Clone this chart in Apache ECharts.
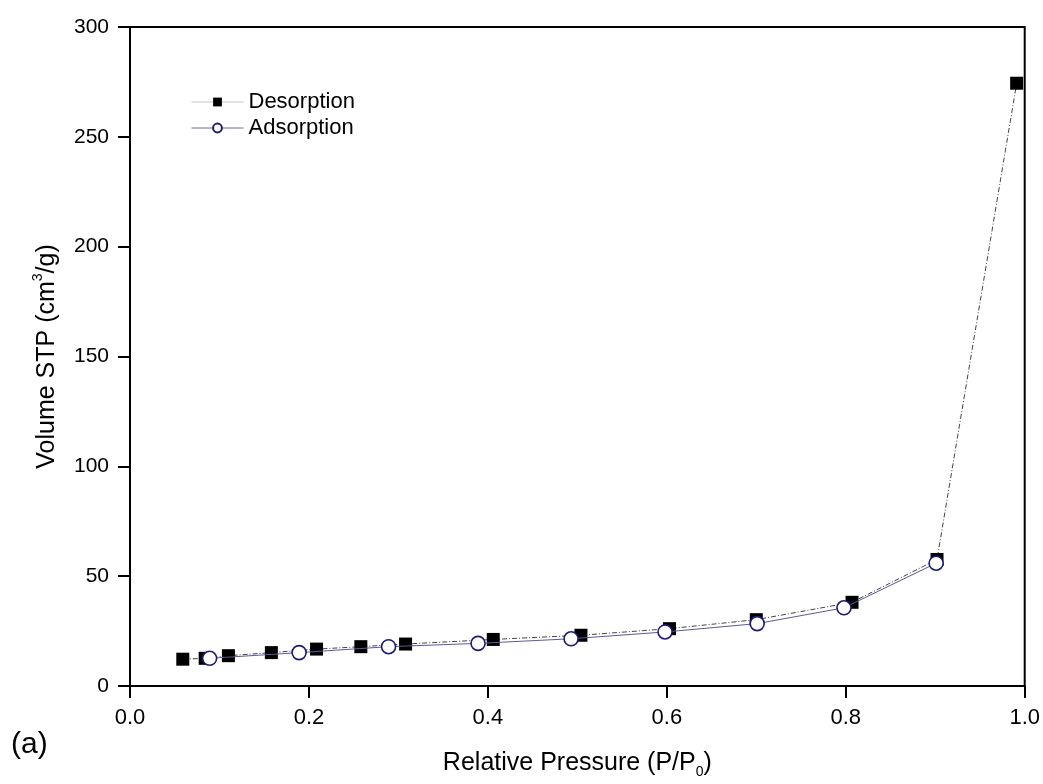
<!DOCTYPE html>
<html>
<head>
<meta charset="utf-8">
<script src="https://cdn.jsdelivr.net/npm/echarts@6/dist/echarts.min.js"></script>
<style>
html,body{margin:0;padding:0;background:#fff;}
#chart{width:1043px;height:784px;}
</style>
</head>
<body>
<div id="chart"></div>
<script>
// Relative pressure (P/P0) and volume (cm3/g)
const desorptionP = [0.059, 0.084, 0.110, 0.158, 0.2085, 0.258, 0.308, 0.406, 0.504, 0.603, 0.700, 0.807, 0.902, 0.991];
const desorptionV = [12.2, 12.6, 13.8, 15.2, 16.8, 17.9, 19.1, 21.2, 23.1, 26.1, 30.2, 38.1, 57.6, 274.4];
const adsorptionP = [0.089, 0.189, 0.289, 0.389, 0.493, 0.598, 0.701, 0.798, 0.901];
const adsorptionV = [12.6, 15.2, 17.9, 19.4, 21.5, 24.6, 28.4, 35.6, 55.9];
const seriesNames = ['Desorption', 'Adsorption'];
const xTicks = [0.0, 0.2, 0.4, 0.6, 0.8, 1.0];
const yTicks = [0, 50, 100, 150, 200, 250, 300];

const pair = (xs, ys) => xs.map((x, i) => [x, ys[i]]);
const FONT = '"Liberation Sans", Arial, sans-serif';

const chart = echarts.init(document.getElementById('chart'), null, {renderer: 'canvas'});
chart.setOption({
  backgroundColor: '#fff',
  animation: false,
  grid: {left: 130, right: 18, top: 27, bottom: 91, show: true, borderColor: '#000', borderWidth: 2, backgroundColor: 'transparent'},
  legend: {
    data: [
      {name: seriesNames[0], lineStyle: {color: '#c4c4c4', type: 'solid', width: 1}},
      {name: seriesNames[1], lineStyle: {color: '#6a6aa8', type: 'solid', width: 1}}
    ],
    orient: 'vertical',
    left: 191,
    top: 91,
    padding: 0,
    itemWidth: 52,
    itemHeight: 11,
    itemGap: 4,
    textStyle: {fontFamily: FONT, fontSize: 22, color: '#000'}
  },
  xAxis: {
    type: 'value',
    min: xTicks[0],
    max: xTicks[xTicks.length - 1],
    interval: 0.2,
    name: 'Relative Pressure (P/P{sub|0})',
    nameLocation: 'middle',
    nameGap: 61,
    nameTextStyle: {fontFamily: FONT, fontSize: 25, color: '#000',
      rich: {sub: {fontFamily: FONT, fontSize: 14, color: '#000', padding: [18, 0, 0, 0]}}},
    axisLine: {show: true, onZero: false, lineStyle: {color: '#000', width: 2}},
    axisTick: {show: true, inside: false, length: 12, lineStyle: {color: '#000', width: 2}},
    axisLabel: {fontFamily: FONT, fontSize: 22, color: '#000', margin: 21, formatter: v => v.toFixed(1)},
    splitLine: {show: false}
  },
  yAxis: {
    type: 'value',
    min: yTicks[0],
    max: yTicks[yTicks.length - 1],
    interval: 50,
    name: 'Volume STP (cm{sup|3}/g)',
    nameLocation: 'middle',
    nameGap: 67,
    nameTextStyle: {fontFamily: FONT, fontSize: 25, color: '#000',
      rich: {sup: {fontFamily: FONT, fontSize: 14, color: '#000', padding: [0, 0, 18, 0]}}},
    axisLine: {show: true, onZero: false, lineStyle: {color: '#000', width: 2}},
    axisTick: {show: true, inside: false, length: 12, lineStyle: {color: '#000', width: 2}},
    axisLabel: {fontFamily: FONT, fontSize: 21, color: '#000', margin: 21},
    splitLine: {show: false}
  },
  graphic: [{
    type: 'text', left: 11, top: 730,
    style: {text: '(a)', fontFamily: FONT, fontSize: 30, fill: '#000'}
  }],
  series: [
    {
      name: seriesNames[0],
      type: 'line',
      data: pair(desorptionP, desorptionV),
      symbol: 'rect',
      symbolSize: 13,
      itemStyle: {color: '#000'},
      lineStyle: {color: '#444', width: 1, type: [5, 2, 1, 2]},
      z: 2
    },
    {
      name: seriesNames[1],
      type: 'line',
      data: pair(adsorptionP, adsorptionV),
      symbol: 'circle',
      symbolSize: 14,
      itemStyle: {color: '#fff', borderColor: '#1c1c78', borderWidth: 1.6},
      lineStyle: {color: '#5a5a9a', width: 1},
      z: 3
    }
  ]
});
</script>
</body>
</html>
